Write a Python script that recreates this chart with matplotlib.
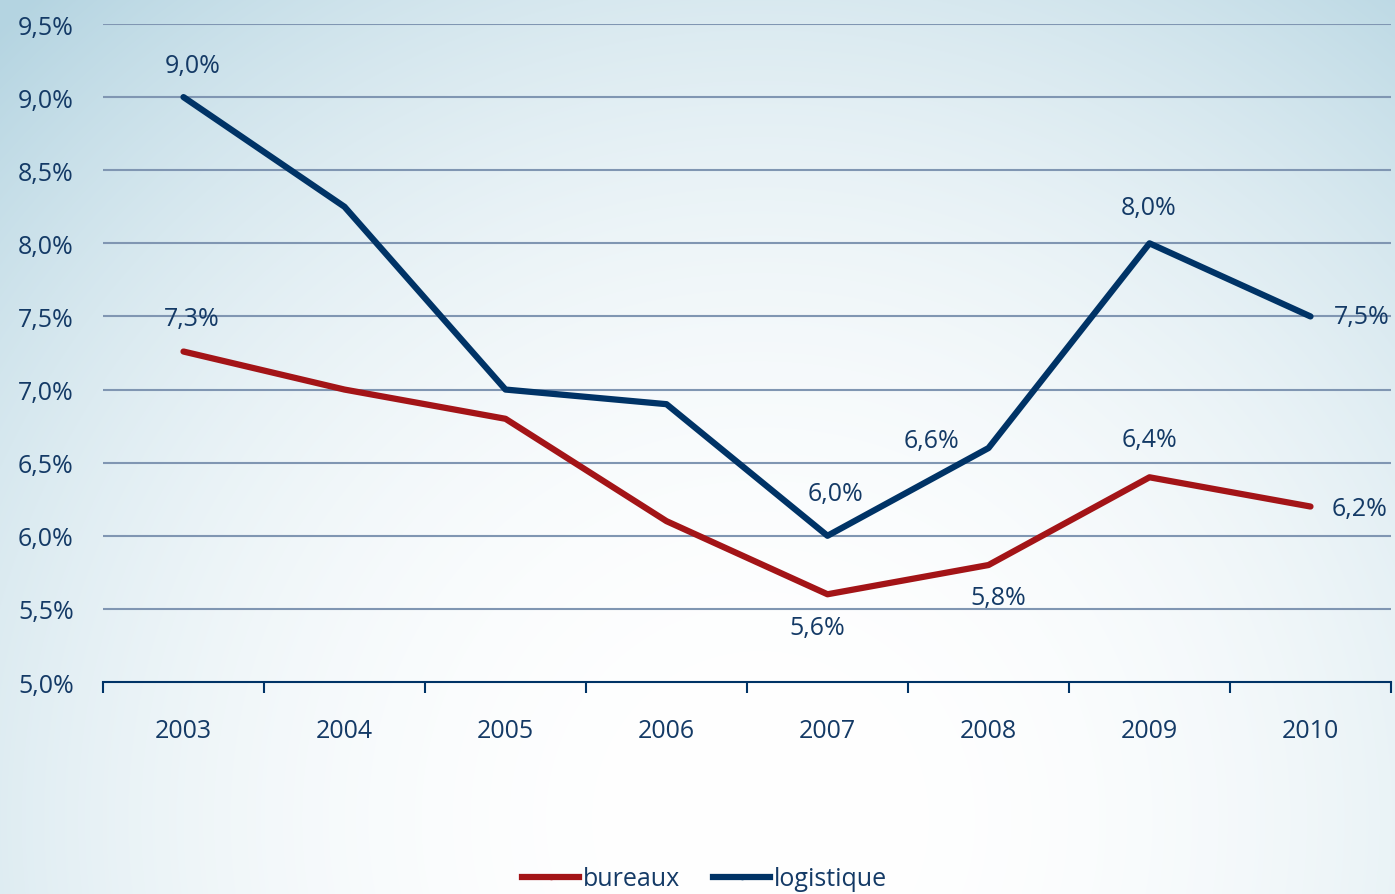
import numpy as np
import matplotlib
matplotlib.use('Agg')
import matplotlib.pyplot as plt
from matplotlib.lines import Line2D

# DONNEES
annees = ['2003', '2004', '2005', '2006', '2007', '2008', '2009', '2010']
bureaux = [7.26, 7.0, 6.8, 6.1, 5.6, 5.8, 6.4, 6.2]
logistique = [9.0, 8.25, 7.0, 6.9, 6.0, 6.6, 8.0, 7.5]
y_ticks = [5.0, 5.5, 6.0, 6.5, 7.0, 7.5, 8.0, 8.5, 9.0, 9.5]

# points etiquetes -> decalage en pixels
lab_bureaux = {0: (8, 33), 4: (-10, -33), 5: (10, -32), 6: (0, 38), 7: (49, -2)}
lab_logistique = {0: (9, 32), 4: (8, 42), 5: (-57, 8), 6: (-1, 36), 7: (51, 0)}

NAVY = '#003366'
RED = '#a31417'
GRID = '#8096b2'
TXT = '#143a66'
FS = 18

plt.rcParams['font.family'] = ['Open Sans', 'DejaVu Sans']

fig = plt.figure(figsize=(13.95, 8.95), dpi=100)

# FOND DEGRADE
W, H = 1395, 895
xx, yy = np.meshgrid(np.arange(W), np.arange(H))
r = np.sqrt((xx - 760) ** 2 + (yy - 820) ** 2)
t = np.clip(r / 1100, 0, 1) ** 2.3
edge = np.array([180, 212, 225]) / 255
img = np.ones((H, W, 3)) * (1 - t[..., None]) + edge * t[..., None]
bg = fig.add_axes([0, 0, 1, 1], zorder=-1)
bg.imshow(img, aspect='auto', extent=[0, 1, 0, 1])
bg.axis('off')

ax = fig.add_axes([103 / W, 1 - 683 / H, 1288 / W, 658 / H])
ax.patch.set_alpha(0)
x = np.arange(len(annees))

for yv in y_ticks[1:]:
    ax.axhline(yv, color=GRID, lw=1.5, zorder=1)

ax.plot(x, bureaux, color=RED, lw=4.5, solid_capstyle='round', solid_joinstyle='round', zorder=3)
ax.plot(x, logistique, color=NAVY, lw=4.5, solid_capstyle='round', solid_joinstyle='round', zorder=3)

def fmt(v):
    return '{:.1f}%'.format(v).replace('.', ',')

for serie, labs in ((bureaux, lab_bureaux), (logistique, lab_logistique)):
    for i, (dx, dy) in labs.items():
        ax.annotate(fmt(serie[i]), (x[i], serie[i]), xytext=(dx, dy),
                    textcoords='offset pixels', ha='center', va='center',
                    fontsize=FS, color=TXT, zorder=4)

ax.set_xlim(-0.5, len(annees) - 0.5)
ax.set_ylim(5.0, 9.5)
ax.set_yticks(y_ticks)
ax.set_yticklabels([fmt(v) for v in y_ticks])
ax.set_xticks(x)
ax.set_xticklabels(annees)
ax.set_xticks(np.arange(-0.5, len(annees)), minor=True)
ax.tick_params(axis='x', which='major', length=0, pad=26, labelsize=FS, labelcolor=TXT)
ax.tick_params(axis='x', which='minor', length=8, width=1.5, color=NAVY, direction='out')
ax.tick_params(axis='y', length=0, pad=21, labelsize=FS, labelcolor=TXT)
for s in ['top', 'right', 'left']:
    ax.spines[s].set_visible(False)
ax.spines['bottom'].set_color(NAVY)
ax.spines['bottom'].set_linewidth(1.5)
ax.spines['bottom'].set_zorder(2)

handles = [Line2D([0], [0], color=RED, lw=4.5, marker='o', markersize=3),
           Line2D([0], [0], color=NAVY, lw=4.5, marker='o', markersize=3)]
fig.legend(handles, ['bureaux', 'logistique'], loc='center', bbox_to_anchor=(0.505, 0.017),
           ncol=2, frameon=False, fontsize=FS, labelcolor=TXT, handlelength=2.3,
           handletextpad=0.15, columnspacing=1.3)

fig.savefig('out.png', dpi=100)
